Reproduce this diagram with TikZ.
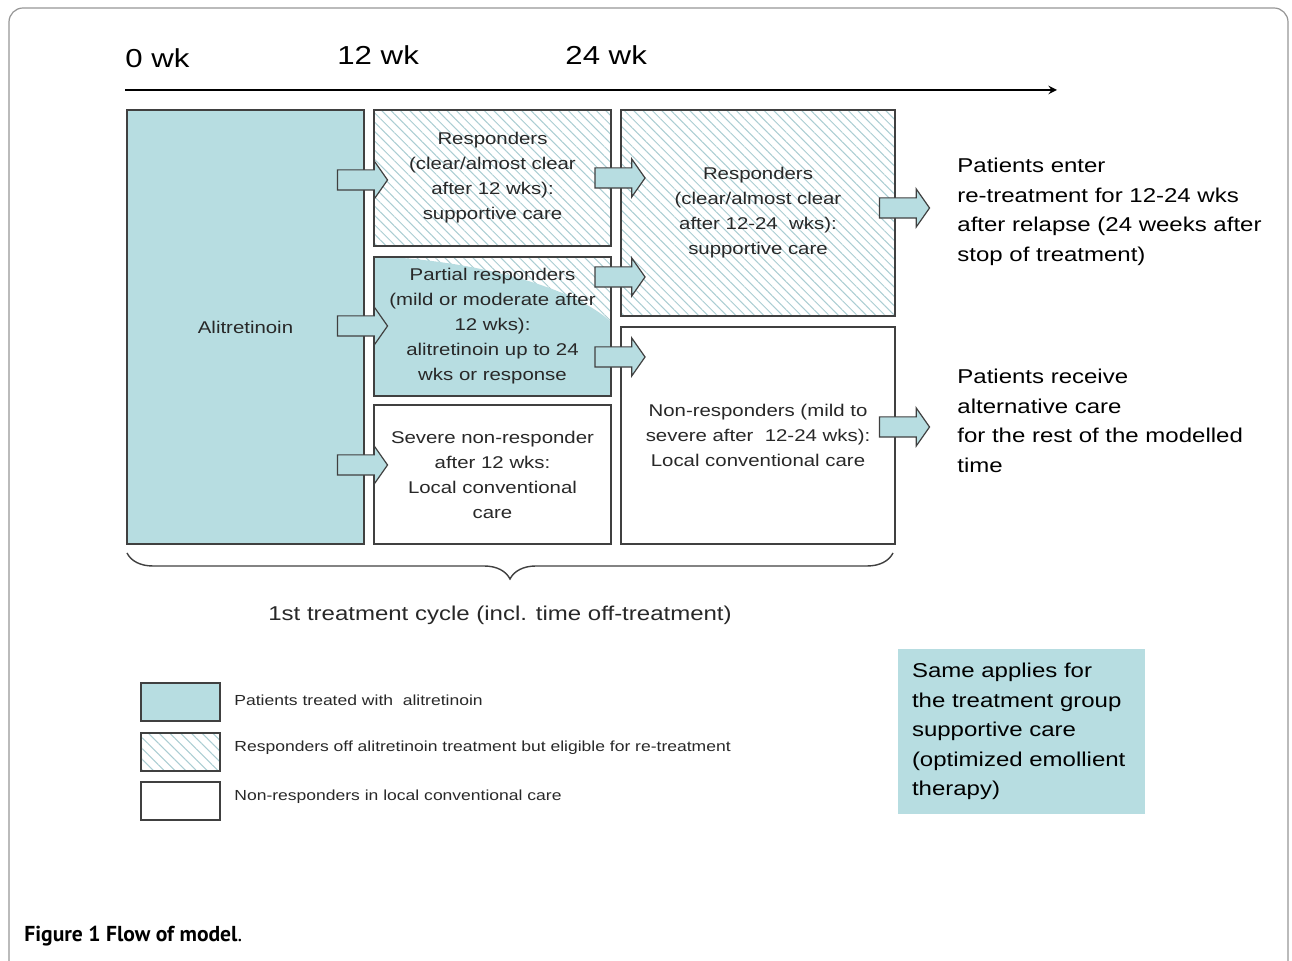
\documentclass[tikz,border=0pt]{standalone}
\usepackage{fontspec}
\setmainfont{Liberation Sans}[FakeStretch=1.2]
\newfontfamily\capfont{PT Sans}
\usetikzlibrary{shapes.arrows, patterns.meta, decorations.pathreplacing}
\definecolor{tealfill}{RGB}{183,221,225}
\definecolor{hatchcol}{RGB}{170,205,210}
\definecolor{edgecol}{RGB}{64,64,64}
\definecolor{txtcol}{RGB}{40,40,40}
\definecolor{framecol}{RGB}{150,150,150}
\tikzset{>=stealth}
\tikzset{
  box/.style={draw=edgecol, line width=0.75pt, inner sep=0pt, align=center, text=txtcol, font=\fontsize{8.5}{12.5}\selectfont},
  treated/.style={box, fill=tealfill},
  offtreat/.style={box, pattern={Lines[angle=-45, distance=3.3pt, line width=0.5pt]}, pattern color=hatchcol},
  nonresp/.style={box, fill=white},
  blockarrow/.style={single arrow, draw=edgecol, fill=tealfill, line width=0.6pt, minimum height=25pt, inner xsep=0pt, inner ysep=4.75pt, single arrow head extend=4.5pt, single arrow tip angle=110},
  outcome/.style={anchor=west, align=left, inner sep=0pt, font=\fontsize{10}{14.75}\selectfont},
  wklabel/.style={anchor=west, inner sep=0pt, font=\fontsize{13}{15}\selectfont},
  legbox/.style={draw=edgecol, line width=0.7pt, minimum width=39.5pt, minimum height=19pt, inner sep=0pt},
  legtext/.style={anchor=west, inner sep=0pt, text=txtcol, font=\fontsize{7.3}{9}\selectfont}
}

\begin{document}
\begin{tikzpicture}[x=0.5pt, y=-0.5pt]
    \useasboundingbox (0,0) rectangle (1292,961);
    \draw [framecol, line width=0.6pt, rounded corners=7pt] (9,961) -- (9,8) -- (1288,8) -- (1288,961);

    \node [wklabel] (wk0) at (125,58) {0 wk};
    \node [wklabel] (wk12) at (337,55) {12 wk};
    \node [wklabel] (wk24) at (565,55) {24 wk};
    \coordinate (tstart) at (125,90);
    \coordinate (tend) at (1057,90);
    \draw [->, line width=0.9pt] (tstart) -- (tend);

    \node [treated, minimum width=118.5pt, minimum height=217pt] (ali) at (245.5,327) {Alitretinoin};
    \node [offtreat, minimum width=118.5pt, minimum height=68pt] (resp) at (492.5,178)
        {Responders\\(clear/almost clear\\after 12 wks):\\supportive care};
    \fill [pattern={Lines[angle=-45, distance=3.3pt, line width=0.5pt]}, pattern color=hatchcol] (374,257) rectangle (611,396);
    \fill [tealfill] (374,257) -- (387,257) .. controls (480,262) and (575,288) .. (611,322) -- (611,396) -- (374,396) -- cycle;
    \node [box, minimum width=118.5pt, minimum height=69.5pt] (partial) at (492.5,326.5)
        {Partial responders\\(mild or moderate after\\12 wks):\\alitretinoin up to 24\\wks or response};
    \node [nonresp, minimum width=118.5pt, minimum height=69.5pt] (severe) at (492.5,474.5)
        {Severe non-responder\\after 12 wks:\\Local conventional\\care};
    \node [offtreat, minimum width=137pt, minimum height=103pt] (resp2) at (758,213)
        {Responders\\(clear/almost clear\\after 12-24~ wks):\\supportive care};
    \node [nonresp, minimum width=137pt, minimum height=108.5pt] (nonresp) at (758,435.5)
        {Non-responders (mild to\\severe after~ 12-24 wks):\\Local conventional care};

    \node [blockarrow] (a1) at (359,180) {};
    \node [blockarrow] (a2) at (359,326) {};
    \node [blockarrow] (a3) at (359,465) {};
    \node [blockarrow] (a4) at (616.5,178) {};
    \node [blockarrow] (a5) at (616.5,277) {};
    \node [blockarrow] (a6) at (616.5,357) {};
    \node [blockarrow] (a7) at (901,208) {};
    \node [blockarrow] (a8) at (901,427) {};

    \node [outcome] (retreat) at (957,212)
        {Patients enter\\re-treatment for 12-24 wks\\after relapse (24 weeks after\\stop of treatment)};
    \node [outcome] (altcare) at (957,421)
        {Patients receive\\alternative care\\for the rest of the modelled\\time};

    \coordinate (bleft) at (127,553);
    \coordinate (bright) at (893,553);
    \draw [decorate, decoration={brace, mirror, amplitude=13pt}, edgecol, line width=0.7pt] (bleft) -- (bright);
    \node [font=\fontsize{10}{12}\selectfont, text=txtcol] (cycle) at (500,615) {1st treatment cycle (incl. time off-treatment)};

    \node [legbox, fill=tealfill] (legtreat) at (180.5,702) {};
    \node [legbox, pattern={Lines[angle=-45, distance=3.8pt, line width=0.5pt]}, pattern color=hatchcol] (legoff) at (180.5,752) {};
    \node [legbox, fill=white] (legnon) at (180.5,801) {};
    \node [legtext] (legtreattxt) at (234,700) {Patients treated with~ alitretinoin};
    \node [legtext] (legofftxt) at (234,748) {Responders off alitretinoin treatment but eligible for re-treatment};
    \node [legtext] (legnontxt) at (234,797) {Non-responders in local conventional care};

    \node [fill=tealfill, minimum width=123.5pt, minimum height=78.5pt, inner sep=7pt, text width=109.5pt, align=left,
        font=\fontsize{10}{14.75}\selectfont] (note) at (1021.5,731.5)
        {Same applies for\\the treatment group\\supportive care\\(optimized emollient\\therapy)};

    \node [anchor=west, inner sep=0pt, font=\capfont\bfseries\fontsize{10.8}{12}\selectfont] (caption) at (24,936)
        {Figure 1 Flow of model\textmd{.}};
\end{tikzpicture}
\end{document}
